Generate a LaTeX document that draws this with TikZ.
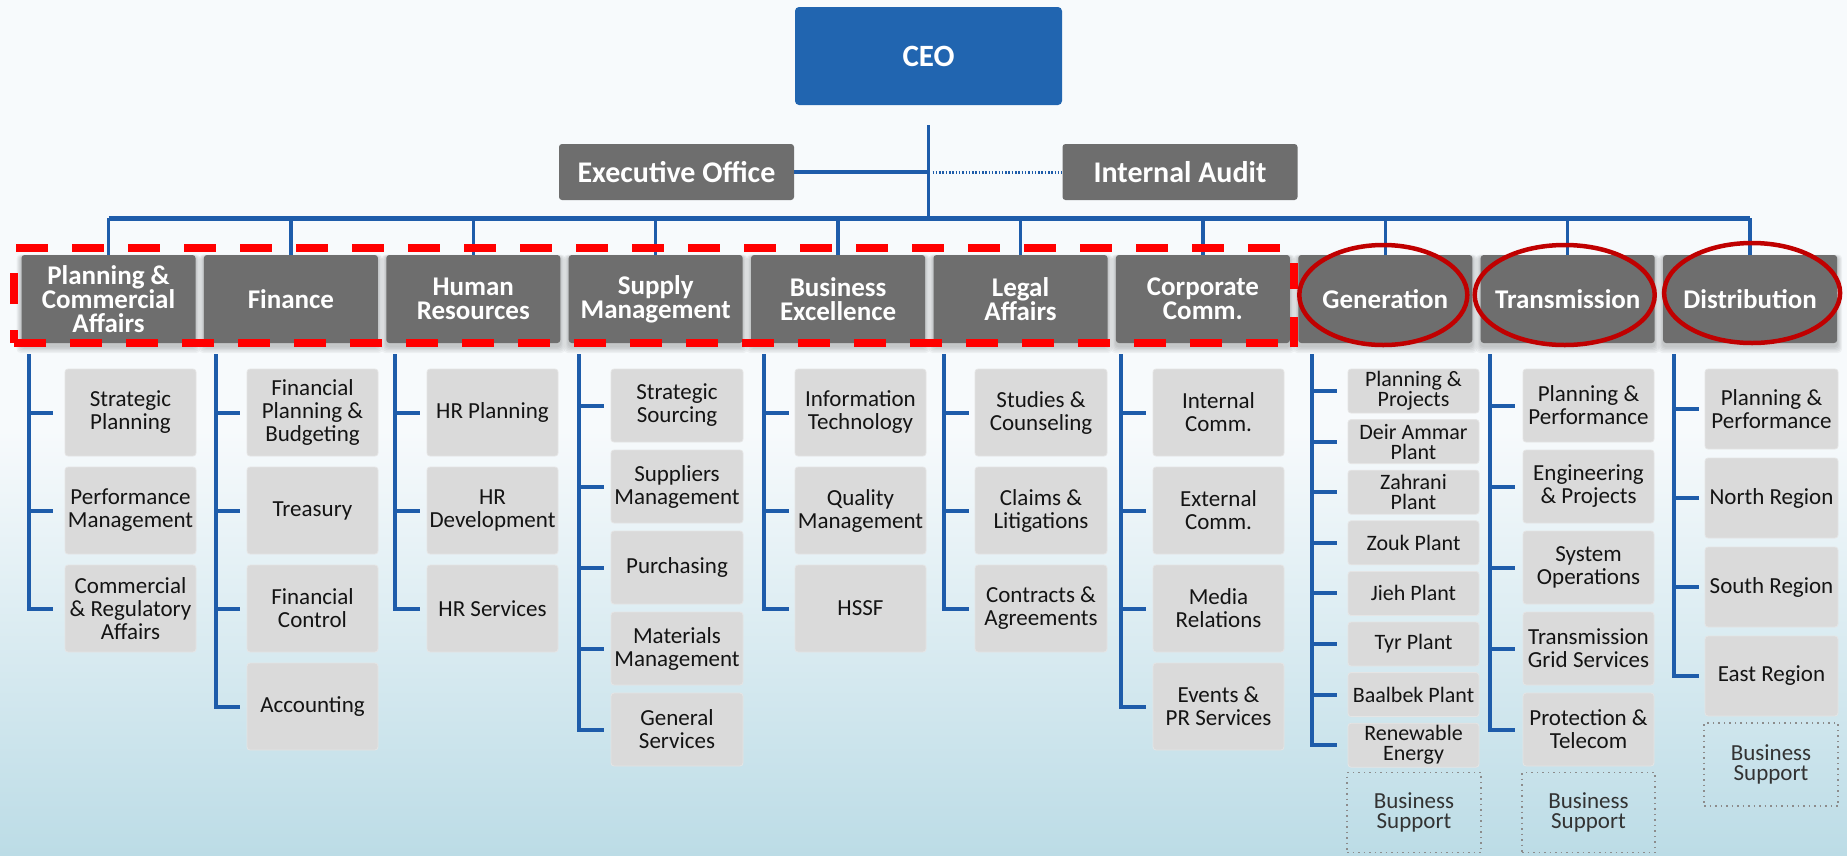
\documentclass[tikz,border=0pt]{standalone}
\usepackage{fontspec}
\setmainfont{Carlito}
\usetikzlibrary{calc}

\definecolor{ceoblue}{RGB}{33,101,176}
\definecolor{linkblue}{RGB}{30,92,170}
\definecolor{unitgray}{RGB}{110,110,110}
\definecolor{subgray}{RGB}{218,218,218}
\definecolor{ringred}{RGB}{192,0,0}
\definecolor{bracered}{RGB}{255,0,0}
\definecolor{bgtop}{RGB}{247,250,252}
\definecolor{bgbot}{RGB}{188,220,230}
\definecolor{subtext}{RGB}{20,20,20}

\tikzset{
  ceobox/.style={fill=ceoblue, rounded corners=4pt, minimum width=267pt, minimum height=98pt,
    text=white, inner sep=0pt, font=\fontsize{31}{31}\selectfont\bfseries},
  staffbox/.style={fill=unitgray, rounded corners=3pt, minimum width=235pt, minimum height=56pt,
    text=white, inner sep=0pt, font=\fontsize{30}{30}\selectfont\bfseries},
  unitbox/.style={fill=unitgray, rounded corners=3pt, minimum width=174pt, minimum height=88pt,
    text=white, align=center, inner sep=0pt, font=\fontsize{27}{24}\selectfont\bfseries},
  subbox/.style={fill=subgray, draw=subgray!70!white, line width=.8pt, rounded corners=3pt,
    text=subtext, align=center, inner sep=0pt, font=\fontsize{23}{23}\selectfont},
  tightlines/.style={font=\fontsize{22}{20}\selectfont},
  supportbox/.style={draw=black!45, line width=1.3pt, dash pattern=on 1.5pt off 4pt,
    text=black!80, align=center, inner sep=0pt, font=\fontsize{23}{20}\selectfont},
  spine/.style={draw=linkblue, line width=4pt},
  droplink/.style={draw=linkblue, line width=3.5pt},
  buslink/.style={draw=linkblue, line width=5pt},
  dotlink/.style={draw=linkblue, line width=3pt, dash pattern=on 1.5pt off 1.8pt},
  ring/.style={draw=ringred, line width=4.5pt},
  bracket/.style={draw=bracered, line width=8pt},
}

% One column of sub-units hanging from a blue spine.
% #1 extra style, #2 name, #3 spine x, #4 box left, #5 box right,
% #6 first box top, #7 box height, #8 pitch, #9 list of units
\newcommand\orgcolumn[9][]{%
  \coordinate (#2-top) at (#3,354);
  \pgfmathsetmacro\boxw{#5-#4}%
  \pgfmathsetmacro\boxx{(#4+#5)/2}%
  \pgfmathsetmacro\tickgap{#4-#3-25}%
  \foreach \unit [count=\k] in {#9}{%
    \pgfmathsetmacro\boxy{#6+#7/2+(\k-1)*#8}%
    \node[subbox, minimum width=\boxw pt, minimum height=#7pt, #1] (#2-\k) at (\boxx,\boxy) {\unit};
    \draw[spine] (#2-top) |- ([xshift=-\tickgap pt]#2-\k.west);
  }%
}

\begin{document}
\begin{tikzpicture}[x=1pt, y=-1pt]
\useasboundingbox (0,0) rectangle (1847,855);

% background
\fill[bgtop] (0,0) rectangle (1847,855);
\shade[top color=bgtop, bottom color=bgbot] (0,430) rectangle (1847,855);

% top level
\node[ceobox] (ceo) at (928.5,56) {CEO};
\node[staffbox] (exec) at (676.5,172) {Executive Office};
\node[staffbox] (audit) at (1180,172) {Internal Audit};

\coordinate (busL) at (108.5,218);
\coordinate (busR) at (1750.1,218);

\draw[droplink] ([yshift=-20pt]ceo.south) -- (ceo.south |- busL);
\draw[spine] (exec.east) -- (exec.east -| ceo.south);
\draw[dotlink] ([xshift=4pt]audit.west -| ceo.south) -- (audit.west);
\draw[buslink] (busL) -- (busR);

% soft shadows under the division boxes
\foreach \i in {0,...,9}{
  \pgfmathsetmacro\cx{108.5+182.4*\i}
  \foreach \d in {1,...,5}{
    \fill[black, opacity=.045, rounded corners=4pt]
      (\cx-87-\d, 257-\d*0.5) rectangle (\cx+87+\d, 346+\d*1.4);
  }
}

% divisions
\foreach \name [count=\i from 0] in {%
  {Planning \&\\Commercial\\Affairs}, {Finance}, {Human\\Resources},
  {Supply\\Management}, {Business\\Excellence}, {Legal\\Affairs},
  {Corporate\\Comm.}, {Generation}, {Transmission}, {Distribution}}{
  \node[unitbox] (unit\i) at ({108.5+182.4*\i},299) {\name};
  \draw[droplink] (unit\i.north |- busL) -- (unit\i.north);
}

% departments
\orgcolumn{pca}{28.5}{65}{196}{369}{87}{98}{%
  {Strategic\\Planning}, {Performance\\Management}, {Commercial\\\& Regulatory\\Affairs}}
\orgcolumn{fin}{215.5}{247}{378}{369}{87}{98}{%
  {Financial\\Planning \&\\Budgeting}, {Treasury}, {Financial\\Control}, {Accounting}}
\orgcolumn{hr}{395}{427}{558}{369}{87}{98}{%
  {HR Planning}, {HR\\Development}, {HR Services}}
\orgcolumn{sup}{579}{611}{743}{369}{73}{81}{%
  {Strategic\\Sourcing}, {Suppliers\\Management}, {Purchasing},
  {Materials\\Management}, {General\\Services}}
\orgcolumn{bex}{764}{795}{926}{369}{87}{98}{%
  {Information\\Technology}, {Quality\\Management}, {HSSF}}
\orgcolumn{leg}{944}{975}{1107}{369}{87}{98}{%
  {Studies \&\\Counseling}, {Claims \&\\Litigations}, {Contracts \&\\Agreements}}
\orgcolumn{cc}{1121}{1153}{1284}{369}{87}{98}{%
  {Internal\\Comm.}, {External\\Comm.}, {Media\\Relations}, {Events \&\\PR Services}}
\orgcolumn[tightlines]{gen}{1312}{1348}{1479}{369}{44}{50.6}{%
  {Planning \&\\Projects}, {Deir Ammar\\Plant}, {Zahrani\\Plant}, {Zouk Plant},
  {Jieh Plant}, {Tyr Plant}, {Baalbek Plant}, {Renewable\\Energy}}
\orgcolumn{tra}{1490}{1523}{1654}{369}{73}{81}{%
  {Planning \&\\Performance}, {Engineering\\\& Projects}, {System\\Operations},
  {Transmission\\Grid Services}, {Protection \&\\Telecom}}
\orgcolumn{dis}{1674}{1705}{1838}{369}{80}{89}{%
  {Planning \&\\Performance}, {North Region}, {South Region}, {East Region}}

% business support groups
\node[supportbox, minimum width=134pt, minimum height=80pt] (gen-bs) at (1414,812.5) {Business\\Support};
\node[supportbox, minimum width=133pt, minimum height=80pt] (tra-bs) at (1588.5,812.5) {Business\\Support};
\node[supportbox, minimum width=134pt, minimum height=83pt] (dis-bs) at (1771,764.5) {Business\\Support};

% red markings
\draw[bracket, dash pattern=on 32pt off 24pt] (16,248) -- (1294,248);
\draw[bracket, dash pattern=on 32pt off 24pt] (14,343) -- (1294,343);
\draw[bracket, dash pattern=on 13pt off 26pt on 31pt off 60pt] (14,343) -- (14,248);
\draw[bracket, dash pattern=on 30pt off 28pt on 26pt off 60pt] (1294,347) -- (1294,248);

\draw[ring] ([xshift=-2pt,yshift=4pt]unit7.center) ellipse [x radius=84pt, y radius=50pt];
\draw[ring] ([xshift=-3pt,yshift=4pt]unit8.center) ellipse [x radius=90pt, y radius=50pt];
\draw[ring] ([xshift=2pt,yshift=6pt]unit9.center) ellipse [x radius=88pt, y radius=50pt];
\end{tikzpicture}
\end{document}
